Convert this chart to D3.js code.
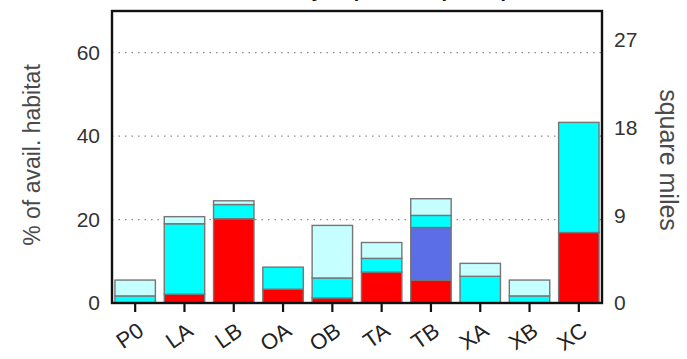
<!DOCTYPE html>
<html>
<head>
<meta charset="utf-8">
<script src="https://cdn.jsdelivr.net/npm/d3@7"></script>
<style>
  html, body { margin: 0; padding: 0; background: #fff; }
  svg { display: block; }
  text { font-family: "Liberation Sans", Arial, sans-serif; fill: #333; }
</style>
</head>
<body>
<svg id="chart" width="687" height="359"></svg>
<script>
// Habitat share per site, stacked by habitat class
const categories = ["P0", "LA", "LB", "OA", "OB", "TA", "TB", "XA", "XB", "XC"];
const redVals  = [0, 2.1, 20.2, 3.3, 1.2, 7.4, 5.5, 0, 0, 16.9];
const blueVals = [0, 0, 0, 0, 0, 0, 12.6, 0, 0, 0];
const cyanVals = [1.7, 16.9, 3.4, 5.3, 4.8, 3.3, 2.9, 6.4, 1.7, 26.4];
const paleVals = [3.8, 1.7, 0.9, 0, 12.6, 3.8, 4.0, 3.1, 3.8, 0];
const leftTicks = [0, 20, 40, 60];
const rightTicks = [0, 9, 18, 27];
const gridVals = [20, 40, 60];

const seriesKeys = ["red", "blue", "cyan", "pale"];
const seriesColors = { red: "#ff0000", blue: "#5b6ee8", cyan: "#00ffff", pale: "#c6ffff" };

const rows = categories.map((c, i) => ({
  cat: c, red: redVals[i], blue: blueVals[i], cyan: cyanVals[i], pale: paleVals[i]
}));

const svg = d3.select("#chart");
const plot = { left: 112, right: 602, top: 11, bottom: 303 };

const x = d3.scaleBand()
  .domain(categories)
  .range([plot.left, plot.right])
  .paddingInner(0.18)
  .paddingOuter(0.06);

const y = d3.scaleLinear().domain([0, 70]).range([plot.bottom, plot.top]);
const y2 = d3.scaleLinear().domain([0, 30]).range([plot.bottom, plot.top]);

// title, mostly above the top edge of the page
svg.append("text")
  .attr("x", 208).attr("y", -3.5)
  .style("font-size", "20px").style("font-weight", "bold")
  .style("fill", "#111")
  .text("Area surveyed (summer ponds)");

// dotted reference lines
svg.append("g").selectAll("line")
  .data(gridVals)
  .join("line")
  .attr("x1", plot.left).attr("x2", plot.right)
  .attr("y1", d => y(d)).attr("y2", d => y(d))
  .attr("stroke", "#8a8a8a")
  .attr("stroke-width", 1.2)
  .attr("stroke-dasharray", "1.5,5");

// stacked bars
const stacked = d3.stack().keys(seriesKeys)(rows);
svg.append("g").selectAll("g")
  .data(stacked)
  .join("g")
  .attr("fill", s => seriesColors[s.key])
  .selectAll("rect")
  .data(s => s.filter(d => d[1] - d[0] > 0))
  .join("rect")
  .attr("x", d => x(d.data.cat))
  .attr("width", x.bandwidth())
  .attr("y", d => y(d[1]))
  .attr("height", d => y(d[0]) - y(d[1]))
  .attr("stroke", "#767676")
  .attr("stroke-width", 1.4);

// frame
svg.append("rect")
  .attr("x", plot.left).attr("y", plot.top)
  .attr("width", plot.right - plot.left)
  .attr("height", plot.bottom - plot.top)
  .attr("fill", "none")
  .attr("stroke", "#111")
  .attr("stroke-width", 2.4);

// bottom axis: ticks and rotated labels
const xAxis = svg.append("g").attr("transform", `translate(0,${plot.bottom})`)
  .call(d3.axisBottom(x).tickSize(9).tickFormat(""));
xAxis.select(".domain").remove();
xAxis.selectAll(".tick line").attr("stroke", "#111").attr("stroke-width", 2.2);

svg.append("g").selectAll("text")
  .data(categories)
  .join("text")
  .attr("transform", d => `translate(${x(d) + x.bandwidth() / 2 + 10},${plot.bottom + 31}) rotate(-35)`)
  .attr("text-anchor", "end")
  .style("font-size", "22px")
  .style("fill", "#222")
  .text(d => d);

// left axis labels
const yAxis = svg.append("g").attr("transform", `translate(${plot.left},0)`)
  .call(d3.axisLeft(y).tickValues(leftTicks).tickSize(0).tickPadding(12));
yAxis.select(".domain").remove();
yAxis.selectAll("text").style("font-size", "21px").style("font-family", "'Liberation Sans', Arial, sans-serif").attr("fill", "#333");

// right axis labels (square miles)
const y2Axis = svg.append("g").attr("transform", `translate(${plot.right},0)`)
  .call(d3.axisRight(y2).tickValues(rightTicks).tickSize(0).tickPadding(12));
y2Axis.select(".domain").remove();
y2Axis.selectAll("text").style("font-size", "21px").style("font-family", "'Liberation Sans', Arial, sans-serif").attr("fill", "#333");

// axis titles
svg.append("text")
  .attr("transform", "translate(40,155) rotate(-90)")
  .attr("text-anchor", "middle")
  .style("font-size", "23px")
  .style("fill", "#4a4a4a")
  .text("% of avail. habitat");

svg.append("text")
  .attr("transform", "translate(660,160) rotate(90)")
  .attr("text-anchor", "middle")
  .style("font-size", "25px")
  .style("fill", "#4a4a4a")
  .text("square miles");
</script>
</body>
</html>
